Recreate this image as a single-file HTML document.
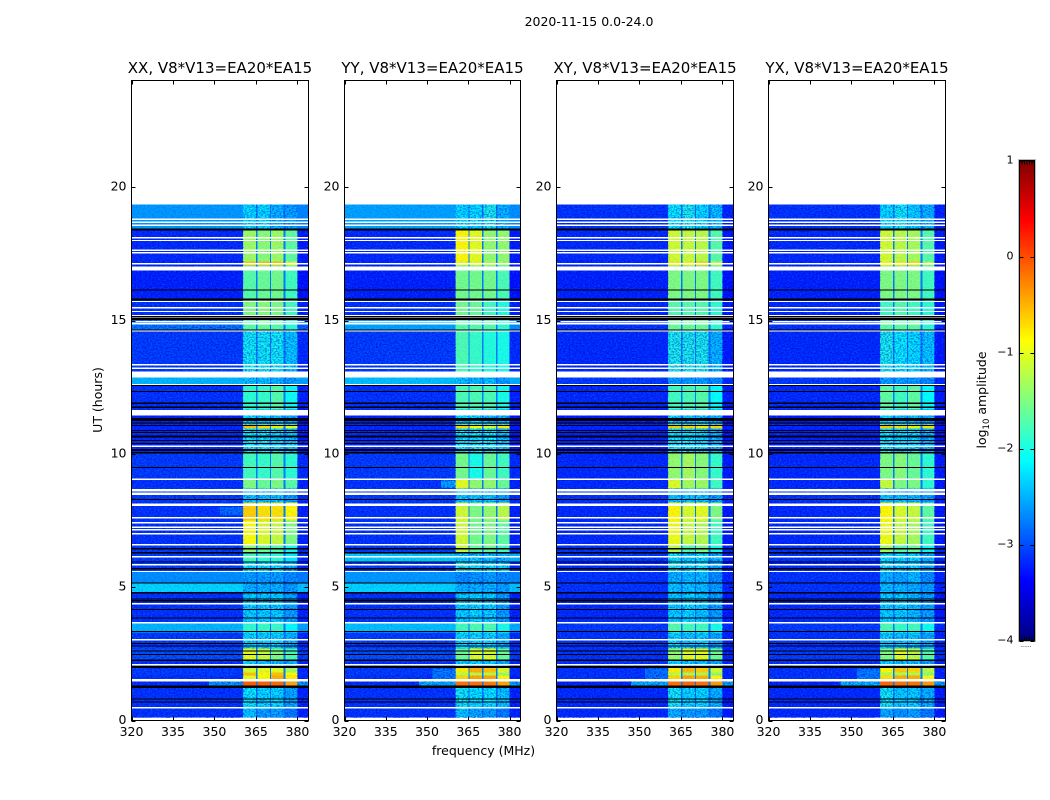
<!DOCTYPE html>
<html>
<head>
<meta charset="utf-8">
<style>
html,body{margin:0;padding:0;background:#fff;}
svg{display:block;}
text{font-family:"DejaVu Sans","Liberation Sans",sans-serif;fill:#000;}
</style>
</head>
<body>
<svg id="fig" xmlns="http://www.w3.org/2000/svg" width="1050" height="800" viewBox="0 0 1050 800">
<defs>
<filter id="speckle" x="0" y="0" width="1" height="1" color-interpolation-filters="sRGB">
<feTurbulence type="fractalNoise" baseFrequency="0.55 0.7" numOctaves="2" seed="4" result="n"/>
<feColorMatrix in="n" type="matrix" values="0 0 0 0 0  0 0 0 0 0.5  0 0 0 0 1  3 0 0 0 -1.5" result="light"/>
<feColorMatrix in="n" type="matrix" values="0 0 0 0 0  0 0 0 0 0  0 0 0 0 0.85  0 3.4 0 0 -1.4" result="dark"/>
<feMerge><feMergeNode in="light"/><feMergeNode in="dark"/></feMerge>
</filter>
<linearGradient id="cbar-gradient" x1="0" y1="1" x2="0" y2="0"></linearGradient>
</defs>
<text x="589" y="26" text-anchor="middle" font-size="12.5">2020-11-15 0.0-24.0</text>
<text x="483.5" y="755" text-anchor="middle" font-size="12.5">frequency (MHz)</text>
<text transform="translate(102,400) rotate(-90)" text-anchor="middle" font-size="12.5">UT (hours)</text>
<text transform="translate(986,400) rotate(-90)" text-anchor="middle" font-size="12.5">log<tspan font-size="8.5" dy="3">10</tspan><tspan dy="-3"> amplitude</tspan></text>
<g id="panels"></g>
<g id="colorbar"></g>
</svg>
<script>
// ---- categories and axis ticks ----
const polarizations = ['XX', 'YY', 'XY', 'YX'];
const baselineLabel = 'V8*V13=EA20*EA15';
const freqTicks = [320, 335, 350, 365, 380];
const utTicks = [0, 5, 10, 15, 20];
const cbarTicks = [1, 0, -1, -2, -3, -4];

// ---- time segments (UT hours, 33 segments) ----
const segmentEdges = [19.35,18.45,17.21,17.06,15.75,15.04,14.66,13.05,12.56,11.66,11.10,10.95,10.05,9.04,8.70,8.18,7.50,6.60,6.26,5.93,5.59,5.18,4.80,3.68,3.30,2.70,2.25,1.99,1.80,1.69,1.46,1.28,0.45,0.11];

// ---- frequency columns (MHz): four sub-bands with gaps ----
const subbandLow = [360.4, 365.5, 370.5, 375.7];
const subbandHigh = [365.0, 370.0, 375.0, 380.0];
const gapLevel = -2.75;

// ---- log10 amplitude outside the sub-bands, per segment ----
const xxOutband = [-2.6,-3.15,-3.15,-3.2,-3.1,-2.75,-3.05,-2.45,-3.1,-3.2,-3.15,-3.15,-3.05,-3.1,-3.05,-3.1,-3.1,-3.05,-3.05,-3.05,-2.65,-2.3,-3.1,-2.45,-3.05,-2.95,-3.1,-3.05,-3.05,-3.1,-3.15,-3.1,-3.1];
const yyOutband = [-2.55,-3.15,-3.15,-3.2,-3.1,-2.55,-3.05,-2.4,-3.1,-3.2,-3.15,-3.15,-3.05,-3.1,-3.05,-3.1,-3.1,-3.05,-2.35,-3.05,-2.6,-2.3,-3.1,-2.4,-3.05,-2.95,-3.1,-3.05,-3.05,-3.1,-3.15,-3.1,-3.1];
const xyOutband = [-3.1,-3.15,-3.15,-3.2,-3.15,-3.1,-3.15,-3.05,-3.15,-3.25,-3.15,-3.2,-3.15,-3.15,-3.1,-3.15,-3.15,-3.1,-3.1,-3.15,-3.1,-3.1,-3.15,-3.05,-3.1,-3.1,-3.1,-3.1,-3.1,-3.1,-3.2,-3.15,-3.15];
const yxOutband = [-3.1,-3.15,-3.15,-3.2,-3.15,-3.1,-3.15,-3.05,-3.15,-3.25,-3.15,-3.2,-3.15,-3.15,-3.1,-3.15,-3.15,-3.1,-3.1,-3.15,-3.1,-3.1,-3.15,-3.05,-3.1,-3.05,-3.1,-3.1,-3.1,-3.1,-3.2,-3.15,-3.15];

// ---- log10 amplitude in the four sub-bands, per segment ----
const xxSubbands = [[-2.2,-2.2,-2.4,-2.5],[-1.35,-1.45,-1.35,-1.65],[-.6,-.6,-.6,-1],[-1.7,-1.6,-1.55,-1.8],[-1.5,-1.45,-1.5,-1.8],[-1.7,-1.6,-1.7,-1.9],[-2.05,-2.05,-2.05,-2.3],[-2.3,-2.3,-2.4,-2.5],[-1.9,-1.85,-1.7,-2.05],[-2.2,-2.3,-2.3,-2.4],[-.6,-.7,-.8,-1],[-2.1,-2.1,-2.2,-2.3],[-1.8,-1.85,-1.7,-1.9],[-1.5,-1.6,-1.5,-1.7],[-2.3,-2.3,-2.3,-2.5],[-.65,-.75,-.75,-.85],[-.9,-1.05,-1.15,-1.5],[-1.4,-1.6,-1.7,-2],[-1.8,-1.9,-1.9,-2.2],[-2.1,-2.1,-2.1,-2.4],[-2.5,-2.5,-2.5,-2.6],[-2.4,-2.4,-2.4,-2.5],[-2.25,-2.25,-2.25,-2.5],[-1.9,-1.85,-1.85,-2.1],[-2.2,-2.25,-2.2,-2.4],[-1,-1.15,-1.5,-1.75],[-2.2,-2.3,-2.3,-2.4],[-1.1,-1,-1,-1.3],[-.6,-.9,-.6,-.9],[-1,-.9,-.5,-.8],[-.1,-.1,-.15,-.45],[-2.1,-2.2,-2.2,-2.45],[-2.3,-2.5,-2.5,-2.7]];
const yySubbands = [[-2.2,-2.2,-2,-2.4],[-.85,-1,-1.4,-1.4],[-1,-1,-1.2,-1.3],[-1.55,-1.55,-1.55,-1.75],[-1.55,-1.6,-1.8,-1.95],[-1.7,-1.7,-1.7,-1.9],[-1.75,-1.85,-1.95,-2],[-2.3,-2.35,-2.3,-2.5],[-1.75,-1.75,-1.75,-2],[-2.2,-2.2,-2.3,-2.4],[-.7,-.9,-1,-.8],[-2.1,-2.1,-2.1,-2.3],[-1.55,-2,-1.6,-1.8],[-1,-1.4,-1.4,-1.6],[-2.3,-2.3,-2.3,-2.5],[-1.1,-1.5,-1.4,-1.2],[-1.1,-1.55,-1.5,-1.65],[-1.15,-1.6,-1.6,-1.8],[-2.25,-2.25,-2.3,-2.4],[-1.95,-2.1,-2.1,-2.2],[-2.6,-2.55,-2.5,-2.6],[-2.4,-2.4,-2.4,-2.5],[-2.25,-2.2,-2.25,-2.5],[-1.8,-1.75,-1.75,-2],[-2.2,-2.2,-2.2,-2.4],[-1.6,-1.05,-1.05,-1.6],[-2.2,-2.2,-2.25,-2.4],[-.8,-.5,-.6,-1.05],[-1.2,-1.2,-1.2,-1.35],[-.7,-.45,-.45,-.85],[-.2,-.2,-.25,-.45],[-2.05,-2.15,-2.15,-2.3],[-2.3,-2.45,-2.5,-2.7]];
const xySubbands = [[-2.1,-2,-2.2,-2.35],[-1.1,-1.15,-1.2,-1.7],[-.8,-.8,-.7,-1.1],[-1.5,-1.5,-1.5,-1.8],[-1.7,-1.7,-1.7,-1.9],[-1.6,-1.6,-1.6,-1.9],[-2,-2,-2,-2.4],[-2.5,-2.5,-2.5,-2.6],[-1.8,-1.75,-1.7,-2.1],[-2.2,-2.3,-2.3,-2.4],[-.65,-.7,-.8,-.7],[-2.1,-2.1,-2.2,-2.4],[-1.4,-1.3,-1.45,-1.85],[-1.05,-1.3,-1.35,-1.8],[-2.3,-2.3,-2.3,-2.5],[-.85,-1.05,-1,-1.5],[-.95,-1.15,-1.25,-1.8],[-1.2,-1.7,-1.5,-2],[-2.1,-2.2,-2.1,-2.4],[-2,-2.2,-2.1,-2.4],[-2.4,-2.35,-2.35,-2.6],[-2.3,-2.3,-2.35,-2.5],[-2.25,-2.2,-2.3,-2.5],[-1.7,-1.8,-1.8,-2],[-2.2,-2.3,-2.25,-2.45],[-1.4,-1,-1,-1.6],[-2.2,-2.25,-2.3,-2.45],[-.8,-.55,-.65,-1.1],[-1.2,-1.25,-1.25,-1.4],[-.7,-.45,-.5,-.85],[-.2,-.15,-.2,-.4],[-2.05,-2.2,-2.2,-2.4],[-2.4,-2.5,-2.5,-2.7]];
const yxSubbands = [[-2.2,-2.05,-2.25,-2.4],[-1.1,-1.2,-1.3,-1.7],[-.85,-.8,-.7,-1.2],[-1.5,-1.5,-1.5,-1.8],[-1.8,-1.7,-1.8,-1.9],[-1.65,-1.65,-1.65,-1.9],[-2,-2.1,-2.2,-2.3],[-2.5,-2.5,-2.5,-2.6],[-1.65,-1.8,-1.65,-2.1],[-2.2,-2.3,-2.3,-2.4],[-.65,-.75,-.8,-.75],[-2.1,-2.15,-2.2,-2.4],[-1.5,-1.45,-1.6,-1.9],[-1.15,-1.5,-1.5,-1.9],[-2.3,-2.3,-2.3,-2.5],[-.85,-1.05,-1.15,-1.65],[-.95,-1.15,-1.3,-1.8],[-1.3,-1.7,-1.6,-2.05],[-2.15,-2.2,-2.2,-2.4],[-2.05,-2.25,-2.2,-2.4],[-2.4,-2.45,-2.35,-2.6],[-2.35,-2.35,-2.4,-2.5],[-2.25,-2.25,-2.35,-2.5],[-1.75,-1.85,-1.8,-2.05],[-2.25,-2.3,-2.3,-2.45],[-1.5,-1,-1.2,-1.7],[-2.2,-2.3,-2.3,-2.45],[-.85,-.65,-.7,-1.2],[-1.25,-1.25,-1.25,-1.4],[-.75,-.5,-.5,-.9],[-.15,-.2,-.2,-.4],[-2.05,-2.25,-2.25,-2.4],[-2.45,-2.55,-2.5,-2.7]];
const allOutband = [xxOutband, yyOutband, xyOutband, yxOutband];
const allSubbands = [xxSubbands, yySubbands, xySubbands, yxSubbands];

// ---- shoulders of enhanced amplitude next to the band ----
const shoulderPol = [0,0,1,1,1,2,2,3,3,0,1,2,3];
const shoulderTop = [8.0,1.46,1.95,1.46,9.0,1.95,1.46,1.95,1.46,1.5,1.5,1.5,1.5];
const shoulderBottom = [7.7,1.30,1.54,1.30,8.72,1.54,1.30,1.54,1.30,1.30,1.30,1.30,1.30];
const shoulderLow = [352,348,352,347,355,352,347,352,346,380,380,380,380];
const shoulderHigh = [360.4,360.4,360.4,360.4,360.4,360.4,360.4,360.4,360.4,384,384,384,384];
const shoulderLevel = [-2.8,-2.55,-2.7,-2.45,-2.5,-2.75,-2.45,-2.7,-2.4,-2.55,-2.5,-2.5,-2.5];

// ---- flagged (blank) integrations shared by every panel: hour, thickness in hours ----
const whiteFlagHours = [18.80,18.69,18.57,18.10,18.0,17.64,17.54,17.13,16.95,15.71,15.48,15.34,15.19,15.11,14.95,14.88,14.61,13.34,13.21,12.97,12.59,11.54,10.29,9.05,8.63,8.5,8.09,7.6,7.41,7.25,7.15,7.0,6.59,6.14,5.84,5.59,4.38,3.66,3.03,2.09,1.51,0.48];
const whiteFlagThick = [.05,.05,.05,.05,.05,.05,.05,.05,.15,.05,.05,.05,.05,.05,.05,.05,.05,.05,.05,.225,.05,.2,.05,.05,.09,.1,.11,.05,.05,.05,.05,.05,.05,.05,.05,.05,.05,.05,.05,.05,.09,.05];
const blackFlagHours = [18.41,16.15,15.79,15.14,15.05,14.65,12.56,12.33,11.9,11.75,11.28,11.15,11.06,10.88,10.8,10.65,10.5,10.39,10.15,10.04,9.48,8.28,6.44,6.29,5.94,5.69,5.16,4.79,4.56,4.49,4.16,3.84,3.33,2.89,2.79,2.6,2.48,2.26,2.0,1.26,0.8,0.7];
const blackFlagThick = [.08,.04,.08,.04,.08,.04,.04,.04,.06,.06,.11,.04,.04,.04,.04,.09,.04,.04,.08,.04,.04,.04,.07,.04,.04,.04,.04,.04,.04,.04,.04,.04,.04,.04,.04,.04,.04,.04,.07,.09,.04,.04];

// ---- layout ----
const axisLeft = [131.5, 344.5, 556.5, 768.5];
const axisRight = [308.5, 520.5, 733.5, 945.5];
const axisTop = 80.5, axisBottom = 720.5;
const freqMin = 320, freqMax = 384, utMin = 0, utMax = 24;
const NS = 'http://www.w3.org/2000/svg';

function xScale(p, f) { return axisLeft[p] + (f - freqMin) / (freqMax - freqMin) * (axisRight[p] - axisLeft[p]); }
function yScale(h) { return axisBottom - (h - utMin) / (utMax - utMin) * (axisBottom - axisTop); }
function clip01(v) { return Math.max(0, Math.min(1, v)); }
function jet(level) {
  const t = clip01((level + 4) / 5);
  const r = clip01(1.5 - Math.abs(4 * t - 3));
  const g = clip01(1.5 - Math.abs(4 * t - 2));
  const b = clip01(1.5 - Math.abs(4 * t - 1));
  return 'rgb(' + Math.round(r * 255) + ',' + Math.round(g * 255) + ',' + Math.round(b * 255) + ')';
}
function make(tag, attrs, parent) {
  const el = document.createElementNS(NS, tag);
  for (const k in attrs) el.setAttribute(k, attrs[k]);
  parent.appendChild(el);
  return el;
}
function cell(parent, p, f0, f1, h0, h1, level) {
  const x0 = xScale(p, f0), x1 = xScale(p, f1), y0 = yScale(h0), y1 = yScale(h1);
  const el = make('rect', { x: x0, y: y0, width: x1 - x0, height: y1 - y0, fill: jet(level), 'shape-rendering': 'crispEdges' }, parent);
  
  
  return el;
}
function speckle(parent, p, f0, f1, h0, h1, strength) {
  const x0 = xScale(p, f0), x1 = xScale(p, f1), y0 = yScale(h0), y1 = yScale(h1);
  const el = make('rect', { x: x0, y: y0, width: x1 - x0, height: y1 - y0, filter: 'url(#speckle)', opacity: strength }, parent);
  
  
}
function flag(parent, p, hour, thick, color) {
  const y = yScale(hour);
  const h = Math.max(1, thick / (utMax - utMin) * (axisBottom - axisTop));
  const el = make('rect', { x: axisLeft[p], y: y - h / 2, width: axisRight[p] - axisLeft[p], height: h, fill: color, 'shape-rendering': 'crispEdges' }, parent);
  
  
}
function tickLine(parent, x1, y1, x2, y2, name) {
  const el = make('line', { x1: x1, y1: y1, x2: x2, y2: y2, stroke: '#000', 'stroke-width': 1 }, parent);
  
  
}
function label(parent, x, y, anchor, size, str, name) {
  const el = make('text', { x: x, y: y, 'text-anchor': anchor, 'font-size': size }, parent);
  el.textContent = str;
  
  
}

const panelsRoot = document.getElementById('panels');
polarizations.forEach(function (pol, p) {
  const g = make('g', {}, panelsRoot);
  
  

  // frequency-time cells
  const outband = allOutband[p], subs = allSubbands[p];
  for (let s = 0; s < segmentEdges.length - 1; s++) {
    const h0 = segmentEdges[s], h1 = segmentEdges[s + 1];
    cell(g, p, freqMin, subbandLow[0], h0, h1, outband[s]);
    cell(g, p, subbandHigh[3], freqMax, h0, h1, outband[s] - 0.1);
    for (let b = 0; b < subbandLow.length; b++) {
      cell(g, p, subbandLow[b], subbandHigh[b], h0, h1, subs[s][b]);
      if (b < subbandLow.length - 1) cell(g, p, subbandHigh[b], subbandLow[b + 1], h0, h1, Math.min(gapLevel, subs[s][b]));
    }
  }
  shoulderPol.forEach(function (sp, i) {
    if (sp === p) cell(g, p, shoulderLow[i], shoulderHigh[i], shoulderTop[i], shoulderBottom[i], shoulderLevel[i]);
  });

  // decorative receiver-noise texture: strong on quiet rows, faint on bright ones
  for (let s = 0; s < segmentEdges.length - 1; s++) {
    const h0 = segmentEdges[s], h1 = segmentEdges[s + 1];
    const outStrength = outband[s] < -2.7 ? 0.55 : 0.18;
    const inMean = (subs[s][0] + subs[s][1] + subs[s][2] + subs[s][3]) / 4;
    const inStrength = inMean < -1.95 ? 0.5 : 0.08;
    speckle(g, p, freqMin, subbandLow[0], h0, h1, outStrength);
    speckle(g, p, subbandLow[0], subbandHigh[3], h0, h1, inStrength);
    speckle(g, p, subbandHigh[3], freqMax, h0, h1, outStrength);
  }

  // flagged integrations
  whiteFlagHours.forEach(function (h, i) { flag(g, p, h, whiteFlagThick[i], '#fff'); });
  blackFlagHours.forEach(function (h, i) { flag(g, p, h, blackFlagThick[i], '#000'); });

  // ticks and labels
  freqTicks.forEach(function (f) {
    const x = Math.round(xScale(p, f)) + 0.5;
    tickLine(g, x, axisBottom, x, axisBottom - 4, 'x-tick-bottom');
    tickLine(g, x, axisTop, x, axisTop + 4, 'x-tick-top');
    label(g, xScale(p, f), 736, 'middle', 12.5, String(f), 'x-tick-label');
  });
  utTicks.forEach(function (h) {
    const y = Math.round(yScale(h)) + 0.5;
    tickLine(g, axisLeft[p], y, axisLeft[p] + 4, y, 'y-tick-left');
    tickLine(g, axisRight[p], y, axisRight[p] - 4, y, 'y-tick-right');
    label(g, axisLeft[p] - 5, yScale(h) + 3.5, 'end', 12.5, String(h), 'y-tick-label');
  });

  // frame and title
  const frame = make('rect', { x: axisLeft[p], y: axisTop, width: axisRight[p] - axisLeft[p], height: axisBottom - axisTop, fill: 'none', stroke: '#000', 'stroke-width': 1 }, g);
  
  
  label(g, (axisLeft[p] + axisRight[p]) / 2, 73, 'middle', 15, pol + ', ' + baselineLabel, 'panel-title');
});

// ---- colorbar ----
const cbarRoot = document.getElementById('colorbar');
const cbarX0 = 1019.5, cbarX1 = 1034.5, cbarY0 = 160.5, cbarY1 = 640.5, cbarMin = -4, cbarMax = 1;
function cbarY(v) { return cbarY1 - (v - cbarMin) / (cbarMax - cbarMin) * (cbarY1 - cbarY0); }
const grad = document.getElementById('cbar-gradient');
for (let i = 0; i <= 40; i++) {
  make('stop', { offset: i / 40, 'stop-color': jet(cbarMin + (cbarMax - cbarMin) * i / 40) }, grad);
}
const bar = make('rect', { x: cbarX0, y: cbarY0, width: cbarX1 - cbarX0, height: cbarY1 - cbarY0, fill: 'url(#cbar-gradient)', stroke: '#000', 'stroke-width': 1 }, cbarRoot);


const halo = make('rect', { x: cbarX0 - 1, y: cbarY0 - 1, width: cbarX1 - cbarX0 + 2, height: cbarY1 - cbarY0 + 2, fill: 'none', stroke: '#bbb', 'stroke-width': 1 }, cbarRoot);


cbarTicks.forEach(function (v) {
  const y = Math.round(cbarY(v)) + 0.5;
  tickLine(cbarRoot, cbarX0, y, cbarX0 + 4, y, 'colorbar-tick-left');
  tickLine(cbarRoot, cbarX1, y, cbarX1 - 4, y, 'colorbar-tick-right');
  label(cbarRoot, cbarX0 - 6, cbarY(v) + 3, 'end', 11, String(v).replace('-', '\u2212'), 'colorbar-tick-label');
});
const cbarEdgeTicks = [1, 2, 3, 4, 5];
cbarEdgeTicks.forEach(function (k) {
  const x = cbarX0 + (cbarX1 - cbarX0) * k / 6;
  tickLine(cbarRoot, x, cbarY0, x, cbarY0 + 4, 'colorbar-edge-tick-top');
  tickLine(cbarRoot, x, cbarY1, x, cbarY1 - 4, 'colorbar-edge-tick-bottom');
});
label(cbarRoot, 1026, 647, 'middle', 6, '......', 'colorbar-lower-tick-dots');
</script>
</body>
</html>
